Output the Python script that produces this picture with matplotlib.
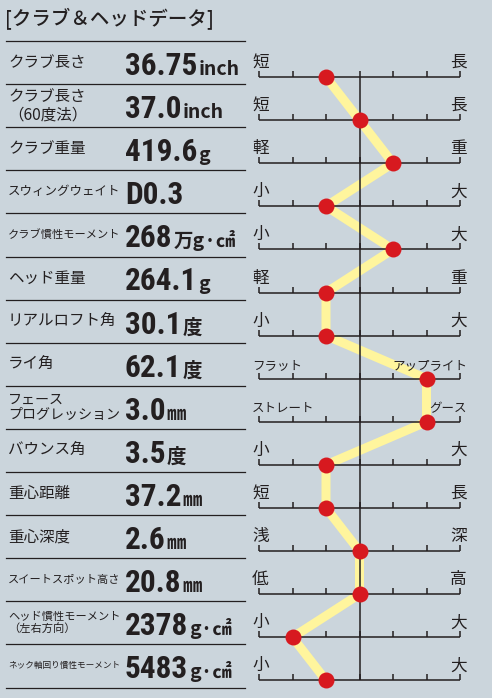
import matplotlib
matplotlib.use("Agg")
import matplotlib.pyplot as plt
import matplotlib.transforms as mtransforms
from matplotlib import font_manager

# data
labels = ["クラブ長さ", "クラブ長さ\n（60度法）", "クラブ重量", "スウィングウェイト",
          "クラブ慣性モーメント", "ヘッド重量", "リアルロフト角", "ライ角",
          "フェース\nプログレッション", "バウンス角", "重心距離", "重心深度",
          "スイートスポット高さ", "ヘッド慣性モーメント\n（左右方向）",
          "ネック軸回り慣性モーメント"]
values = ["36.75", "37.0", "419.6", "D0.3", "268", "264.1", "30.1", "62.1",
          "3.0", "3.5", "37.2", "2.6", "20.8", "2378", "5483"]
units = ["inch", "inch", "g", "", "万g·㎠", "g", "度", "度",
         "㎜", "度", "㎜", "㎜", "㎜", "g·㎠", "g·㎠"]
left_ends = ["短", "短", "軽", "小", "小", "軽", "小", "フラット",
             "ストレート", "小", "短", "浅", "低", "小", "小"]
right_ends = ["長", "長", "重", "大", "大", "重", "大", "アップライト",
              "グース", "大", "長", "深", "高", "大", "大"]
positions = [-1, 0, 1, -1, 1, -1, -1, 2, 2, -1, -1, 0, 0, -2, -1]
scale_ticks = [-3, -2, -1, 0, 1, 2, 3]

BG = "#cbd5dc"
INK = "#231f20"
YELLOW = "#fff59d"
RED = "#d7191f"
JP = ["Noto Sans CJK JP", "DejaVu Sans"]

names = {f.name for f in font_manager.fontManager.ttflist}
num_font = next((n for n in ["Liberation Sans Narrow", "Roboto Condensed"] if n in names),
                "DejaVu Sans")

W, H = 492, 698
n = len(labels)
row_top = 41
row_h = 43.1

fig = plt.figure(figsize=(W / 100, H / 100), dpi=100)
fig.patch.set_facecolor(BG)

# left table in pixel units
bg = fig.add_axes([0, 0, 1, 1])
bg.set_xlim(0, W)
bg.set_ylim(H, 0)
bg.axis("off")
renderer = fig.canvas.get_renderer()
inv = bg.transData.inverted()

bg.text(5, 19, "[クラブ＆ヘッドデータ]", family=JP, fontsize=14, weight="medium",
        color=INK, ha="left", va="center")

for k in range(n + 1):
    y = row_top + k * row_h
    bg.plot([6, 245], [y, y], color=INK, lw=0.9)

for i in range(n):
    top = row_top + i * row_h
    lab = bg.text(8, top + row_h / 2, labels[i], family=JP, fontsize=11.2,
                  color=INK, ha="left", va="center", linespacing=1.15)
    wpx = lab.get_window_extent(renderer).width
    if wpx > 112:
        lab.set_fontsize(11.2 * 112 / wpx)
    num = bg.text(125, top + 34, values[i], family=num_font, fontsize=22.5,
                  weight="bold", color=INK, ha="left", va="baseline")
    if units[i]:
        x1 = inv.transform(num.get_window_extent(renderer).get_points())[1][0]
        bg.text(x1 + 1, top + 34, units[i], family=JP, fontsize=14,
                weight="bold", color=INK, ha="left", va="baseline")

# right scale chart
x0, x1 = 259, 460
y0 = row_top + 36
y1 = y0 + (n - 1) * row_h
ax = fig.add_axes([x0 / W, 1 - y1 / H, (x1 - x0) / W, (y1 - y0) / H])
ax.set_xlim(scale_ticks[0], scale_ticks[-1])
ax.set_ylim(n - 1, 0)
ax.axis("off")
ax.patch.set_alpha(0)

rows = list(range(n))
ax.plot(positions, rows, color=YELLOW, lw=6.5, solid_capstyle="round",
        solid_joinstyle="round", zorder=2, clip_on=False)
ax.hlines(rows, scale_ticks[0], scale_ticks[-1], color=INK, lw=1.1, zorder=3,
          clip_on=False)
tick_h = 6 / row_h
for r in rows:
    ax.vlines(scale_ticks, r - tick_h, r, color=INK, lw=1.1, zorder=3, clip_on=False)
ax.vlines(0, 0, n - 1, color=INK, lw=1.1, zorder=3, clip_on=False)
ax.plot(positions, rows, "o", color=RED, markersize=11.5, markeredgewidth=0,
        zorder=4, clip_on=False)

left_tr = mtransforms.offset_copy(ax.transData, fig=fig, x=-7, y=10, units="dots")
right_tr = mtransforms.offset_copy(ax.transData, fig=fig, x=7, y=10, units="dots")
for r in rows:
    for txt, xv, ha, tr in [(left_ends[r], scale_ticks[0], "left", left_tr),
                            (right_ends[r], scale_ticks[-1], "right", right_tr)]:
        size = 12 if len(txt) == 1 else 9
        ax.text(xv, r, txt, family=JP, fontsize=size, color=INK, ha=ha,
                va="baseline", transform=tr)

fig.savefig("out.png", dpi=100, facecolor=BG)
